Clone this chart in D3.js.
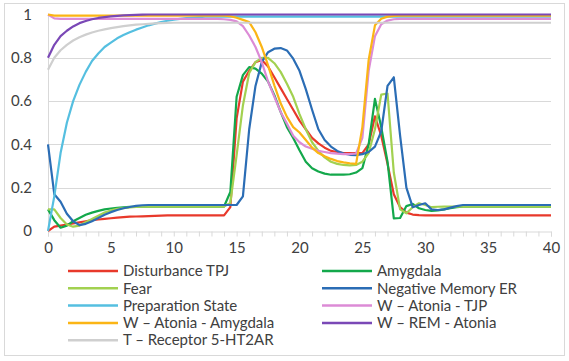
<!DOCTYPE html>
<meta charset="utf-8">
<style>
body { margin: 0; background: #fff; }
text { font-family: Lato, "Liberation Sans", sans-serif; fill: #404040; }
.grid line { stroke: #d9d9d9; stroke-width: 1; }
.series path { fill: none; stroke-width: 2.2px; stroke-linejoin: round; }
</style>
<svg width="569" height="361"></svg>
<script src="https://d3js.org/d3.v7.min.js"></script>
<script>
// time steps (half units) shared by all series
var times = [0,0.5,1,1.5,2,2.5,3,3.5,4,4.5, 5,5.5,6,6.5,7,7.5,8,8.5,9,9.5,
  10,10.5,11,11.5,12,12.5,13,13.5,14,14.5, 15,15.5,16,16.5,17,17.5,18,18.5,19,19.5,
  20,20.5,21,21.5,22,22.5,23,23.5,24,24.5, 25,25.5,26,26.5,27,27.5,28,28.5,29,29.5,
  30,30.5,31,31.5,32,32.5,33,33.5,34,34.5, 35,35.5,36,36.5,37,37.5,38,38.5,39,39.5, 40];

var disturbanceTPJ = [0,0.02,0.025,0.03,0.035,0.04,0.045,0.05,0.053,0.056,
  0.059,0.062,0.064,0.066,0.067,0.068,0.069,0.07,0.071,0.072,
  0.072,0.072,0.072,0.072,0.072,0.072,0.072,0.072,0.072,0.11,
  0.52,0.69,0.74,0.78,0.79,0.76,0.71,0.66,0.61,0.56,
  0.51,0.47,0.43,0.405,0.385,0.37,0.365,0.36,0.36,0.36,
  0.36,0.4,0.53,0.44,0.31,0.17,0.11,0.085,0.076,0.073,
  0.072,0.072,0.072,0.072,0.072,0.072,0.072,0.072,0.072,0.072,
  0.072,0.072,0.072,0.072,0.072,0.072,0.072,0.072,0.072,0.072, 0.072];

var amygdala = [0.1,0.05,0.015,0.025,0.045,0.06,0.075,0.085,0.093,0.1,
  0.104,0.107,0.109,0.111,0.112,0.113,0.113,0.113,0.113,0.113,
  0.113,0.113,0.113,0.113,0.113,0.113,0.113,0.113,0.113,0.18,
  0.62,0.72,0.757,0.75,0.727,0.69,0.627,0.55,0.48,0.43,
  0.373,0.32,0.29,0.275,0.265,0.26,0.26,0.26,0.262,0.27,
  0.29,0.4,0.61,0.48,0.32,0.058,0.06,0.115,0.125,0.105,
  0.097,0.093,0.095,0.1,0.105,0.11,0.113,0.113,0.113,0.113,
  0.113,0.113,0.113,0.113,0.113,0.113,0.113,0.113,0.113,0.113, 0.113];

var fear = [0.1,0.1,0.06,0.03,0.02,0.025,0.04,0.055,0.07,0.085,
  0.095,0.102,0.106,0.109,0.111,0.112,0.113,0.113,0.113,0.113,
  0.113,0.113,0.113,0.113,0.113,0.113,0.113,0.113,0.113,0.13,
  0.35,0.58,0.73,0.78,0.8,0.8,0.775,0.735,0.68,0.62,
  0.54,0.47,0.41,0.37,0.34,0.32,0.31,0.305,0.303,0.305,
  0.32,0.36,0.47,0.63,0.635,0.27,0.1,0.082,0.11,0.128,
  0.12,0.11,0.112,0.113,0.113,0.113,0.113,0.113,0.113,0.113,
  0.113,0.113,0.113,0.113,0.113,0.113,0.113,0.113,0.113,0.113, 0.113];

var negativeMemoryER = [0.4,0.17,0.135,0.08,0.045,0.027,0.033,0.045,0.06,0.075,
  0.087,0.097,0.105,0.111,0.116,0.119,0.12,0.12,0.12,0.12,
  0.12,0.12,0.12,0.12,0.12,0.12,0.12,0.12,0.12,0.12,
  0.12,0.16,0.47,0.67,0.78,0.826,0.842,0.845,0.834,0.796,
  0.74,0.655,0.56,0.47,0.42,0.39,0.37,0.358,0.352,0.35,
  0.355,0.365,0.39,0.46,0.67,0.71,0.44,0.2,0.11,0.12,
  0.128,0.1,0.097,0.1,0.108,0.115,0.12,0.12,0.12,0.12,
  0.12,0.12,0.12,0.12,0.12,0.12,0.12,0.12,0.12,0.12, 0.12];

var preparationState = [0,0.16,0.36,0.5,0.6,0.675,0.735,0.785,0.82,0.85,
  0.87,0.89,0.905,0.918,0.93,0.94,0.95,0.958,0.965,0.971,
  0.976,0.98,0.983,0.986,0.988,0.99,0.99,0.99,0.99,0.99,
  0.99,0.99,0.99,0.99,0.99,0.99,0.99,0.99,0.99,0.99,
  0.99,0.99,0.99,0.99,0.99,0.99,0.99,0.99,0.99,0.99,
  0.99,0.99,0.99,0.99,0.99,0.99,0.99,0.99,0.99,0.99,
  0.99,0.99,0.99,0.99,0.99,0.99,0.99,0.99,0.99,0.99,
  0.99,0.99,0.99,0.99,0.99,0.99,0.99,0.99,0.99,0.99, 0.99];

var atoniaTJP = [1,0.982,0.98,0.98,0.98,0.98,0.98,0.98,0.98,0.98,
  0.98,0.98,0.98,0.98,0.98,0.98,0.98,0.98,0.98,0.98,
  0.98,0.98,0.98,0.98,0.98,0.98,0.98,0.98,0.978,0.975,
  0.968,0.946,0.903,0.85,0.78,0.69,0.62,0.55,0.496,0.44,
  0.41,0.39,0.38,0.37,0.365,0.36,0.357,0.355,0.355,0.358,
  0.43,0.74,0.9,0.955,0.972,0.978,0.98,0.98,0.98,0.98,
  0.98,0.98,0.98,0.98,0.98,0.98,0.98,0.98,0.98,0.98,
  0.98,0.98,0.98,0.98,0.98,0.98,0.98,0.98,0.98,0.98, 0.98];

var atoniaAmygdala = [1,0.995,0.995,0.995,0.995,0.995,0.995,0.995,0.995,0.995,
  0.995,0.995,0.995,0.995,0.995,0.995,0.995,0.995,0.995,0.995,
  0.995,0.995,0.995,0.995,0.995,0.995,0.995,0.995,0.995,0.992,
  0.985,0.975,0.965,0.918,0.85,0.765,0.673,0.59,0.527,0.48,
  0.455,0.42,0.385,0.36,0.345,0.333,0.323,0.317,0.313,0.31,
  0.48,0.79,0.95,0.98,0.99,0.993,0.995,0.995,0.995,0.995,
  0.995,0.995,0.995,0.995,0.995,0.995,0.995,0.995,0.995,0.995,
  0.995,0.995,0.995,0.995,0.995,0.995,0.995,0.995,0.995,0.995, 0.995];

var remAtonia = [0.8,0.86,0.9,0.925,0.945,0.96,0.97,0.978,0.984,0.988,
  0.991,0.994,0.996,0.997,0.998,0.999,1,1,1,1,
  1,1,1,1,1,1,1,1,1,1,
  1,1,1,1,1,1,1,1,1,1,
  1,1,1,1,1,1,1,1,1,1,
  1,1,1,1,1,1,1,1,1,1,
  1,1,1,1,1,1,1,1,1,1,
  1,1,1,1,1,1,1,1,1,1, 1];

var receptor5HT2AR = [0.745,0.8,0.835,0.86,0.88,0.895,0.907,0.917,0.925,0.931,
  0.937,0.942,0.946,0.95,0.953,0.955,0.957,0.959,0.96,0.961,
  0.962,0.962,0.962,0.962,0.962,0.962,0.962,0.962,0.962,0.962,
  0.962,0.962,0.962,0.962,0.962,0.962,0.962,0.962,0.962,0.962,
  0.962,0.962,0.962,0.962,0.962,0.962,0.962,0.962,0.962,0.962,
  0.962,0.962,0.962,0.962,0.962,0.962,0.962,0.962,0.962,0.962,
  0.962,0.962,0.962,0.962,0.962,0.962,0.962,0.962,0.962,0.962,
  0.962,0.962,0.962,0.962,0.962,0.962,0.962,0.962,0.962,0.962, 0.962];

var seriesNames = ["Disturbance TPJ", "Amygdala", "Fear", "Negative Memory ER",
  "Preparation State", "W \u2013 Atonia - TJP", "W \u2013 Atonia - Amygdala",
  "W \u2013 REM - Atonia", "T \u2013 Receptor 5-HT2AR"];
var seriesValues = [disturbanceTPJ, amygdala, fear, negativeMemoryER, preparationState,
  atoniaTJP, atoniaAmygdala, remAtonia, receptor5HT2AR];
var seriesColors = ["#e8392b", "#13a84b", "#a2d150", "#2b6db5", "#55bfe0",
  "#dc8bd6", "#fbb515", "#7a48b6", "#cfcfcf"];

var xLabels = [0, 5, 10, 15, 20, 25, 30, 35, 40];
var yLabels = [0, 0.2, 0.4, 0.6, 0.8, 1];

var svg = d3.select("svg"),
  width = +svg.attr("width"),
  height = +svg.attr("height");

// chart frame
svg.append("rect")
  .attr("x", 4.5).attr("y", 3.5)
  .attr("width", width - 9).attr("height", height - 9)
  .attr("fill", "#fff").attr("stroke", "#d9d9d9");

var x = d3.scaleLinear().domain([0, 40]).range([48, 551]);
var y = d3.scaleLinear().domain([0, 1]).range([231, 14.5]);

// gridlines
svg.append("g").attr("class", "grid")
  .selectAll("line")
  .data(yLabels.slice(1))
  .enter().append("line")
    .attr("x1", x(0)).attr("x2", x(40))
    .attr("y1", function(d) { return Math.round(y(d)) + 0.5; })
    .attr("y2", function(d) { return Math.round(y(d)) + 0.5; });

// y axis line
svg.append("line")
  .attr("x1", x(0) + 0.5).attr("x2", x(0) + 0.5)
  .attr("y1", y(1)).attr("y2", y(0))
  .attr("stroke", "#d9d9d9");

// x axis with a tick every unit
var xAxis = d3.axisBottom(x)
  .tickValues(d3.range(0, 41))
  .tickSize(5)
  .tickPadding(6)
  .tickFormat(function(d) { return xLabels.indexOf(d) >= 0 ? d : ""; });
var gx = svg.append("g")
  .attr("transform", "translate(0," + (Math.round(y(0)) + 0.5) + ")")
  .call(xAxis);
gx.select(".domain").attr("stroke", "#d9d9d9");
gx.selectAll(".tick line").attr("stroke", "#d9d9d9");
gx.selectAll("text").style("font-size", "15px").attr("fill", "#404040");

var yAxis = d3.axisLeft(y)
  .tickValues(yLabels)
  .tickSize(0)
  .tickPadding(16)
  .tickFormat(function(d) { return d; });
var gy = svg.append("g")
  .attr("transform", "translate(" + x(0) + ",0)")
  .call(yAxis);
gy.select(".domain").remove();
gy.selectAll("text").style("font-size", "15px").attr("fill", "#404040");

// series
var line = d3.line()
  .x(function(d, i) { return x(times[i]); })
  .y(function(d) { return y(d); });

svg.append("g").attr("class", "series")
  .selectAll("path")
  .data(seriesValues)
  .enter().append("path")
    .attr("d", line)
    .attr("stroke", function(d, i) { return seriesColors[i]; });

// legend, two columns
var legend = svg.append("g")
  .selectAll("g")
  .data(seriesNames)
  .enter().append("g")
    .attr("transform", function(d, i) {
      var col = i % 2, row = Math.floor(i / 2);
      return "translate(" + (col === 0 ? 68 : 322) + "," + (271 + row * 17.3) + ")";
    });
legend.append("line")
  .attr("x1", 0).attr("x2", 50)
  .attr("stroke-width", 2.5)
  .attr("stroke", function(d, i) { return seriesColors[i]; });
legend.append("text")
  .attr("x", 55).attr("dy", "0.35em")
  .style("font-size", "15px")
  .text(function(d) { return d; });
</script>
